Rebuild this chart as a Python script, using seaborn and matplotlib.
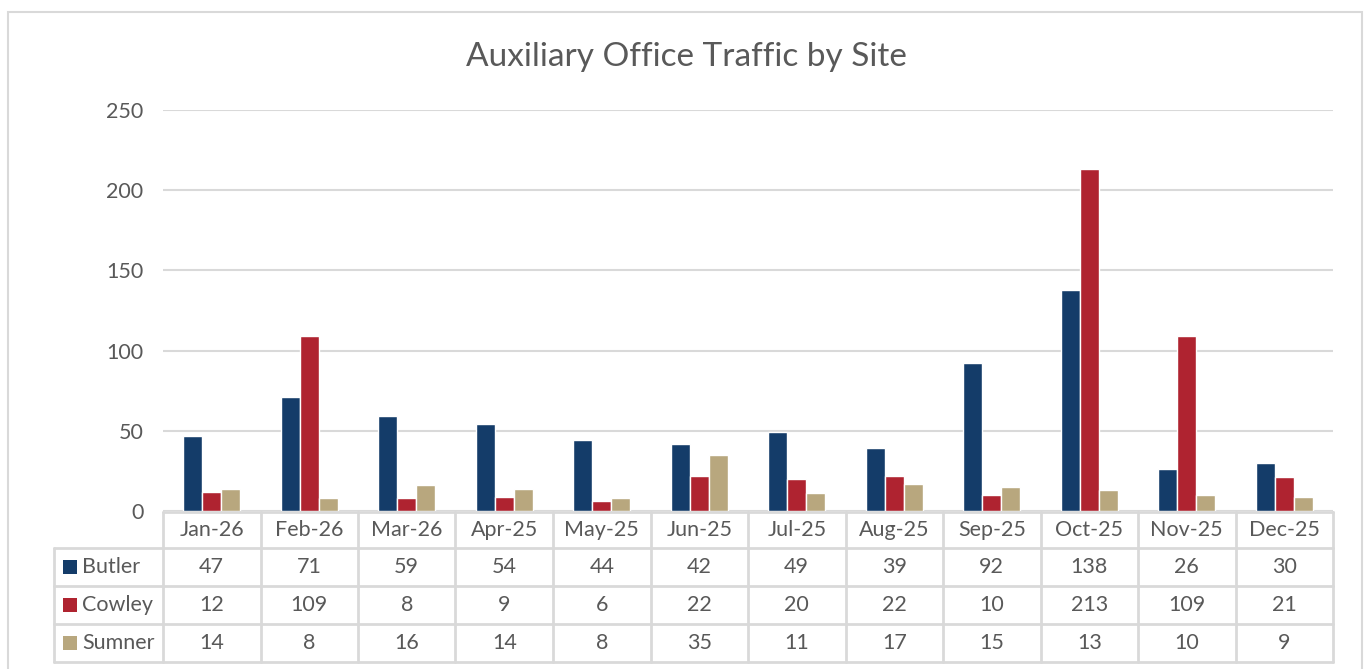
import matplotlib
matplotlib.use("Agg")
import matplotlib.pyplot as plt
import seaborn as sns
import pandas as pd
from matplotlib.patches import Rectangle

# data
months = ["Jan-26", "Feb-26", "Mar-26", "Apr-25", "May-25", "Jun-25",
          "Jul-25", "Aug-25", "Sep-25", "Oct-25", "Nov-25", "Dec-25"]
sites = ["Butler", "Cowley", "Sumner"]
butler = [47, 71, 59, 54, 44, 42, 49, 39, 92, 138, 26, 30]
cowley = [12, 109, 8, 9, 6, 22, 20, 22, 10, 213, 109, 21]
sumner = [14, 8, 16, 14, 8, 35, 11, 17, 15, 13, 10, 9]
colors = ["#143C69", "#AF2330", "#B8A77E"]

values = {"Butler": butler, "Cowley": cowley, "Sumner": sumner}
df = pd.DataFrame([(m, s, values[s][i]) for s in sites for i, m in enumerate(months)],
                  columns=["Month", "Site", "Visits"])

sns.set_style("white")
plt.rcParams['font.family'] = ['Lato', 'DejaVu Sans']
txt = "#595959"
grid = "#D9D9D9"
fs = 15.5

W, H = 1366, 669
fig = plt.figure(figsize=(W / 100, H / 100), dpi=100)

def px(x, y):
    return x / W, 1 - y / H

L, R, T, B = 163, 1333, 110, 511
ax = fig.add_axes([L / W, 1 - B / H, (R - L) / W, (B - T) / H])
sns.barplot(data=df, x="Month", y="Visits", hue="Site", order=months,
            hue_order=sites, palette=colors, width=0.58, saturation=1,
            legend=False, ax=ax)
ax.set_xlim(-0.5, len(months) - 0.5)
ax.set_ylim(0, 250)
ax.set_yticks([0, 50, 100, 150, 200, 250])
ax.yaxis.grid(True, color=grid, lw=1.5)
ax.set_axisbelow(True)
for s in ax.spines.values():
    s.set_visible(False)
ax.set_xticks([])
ax.set_xlabel("")
ax.set_ylabel("")
ax.tick_params(axis="y", length=0, pad=14, labelsize=fs, labelcolor=txt)

# outer chart border
fig.patches.append(Rectangle(px(8, 680), 1354 / W, 668 / H, transform=fig.transFigure,
                             fill=False, edgecolor=grid, lw=1.5))

fig.text(*px(686, 57), "Auxiliary Office Traffic by Site", ha="center", va="center",
         fontsize=24, color=txt)

# data table under the plot
cw = (R - L) / len(months)
rows = [512, 548, 586, 624, 662]
lx = 54

def hline(x0, x1, y):
    fig.add_artist(plt.Line2D([x0 / W, x1 / W], [1 - y / H, 1 - y / H], color=grid, lw=2))

def vline(x, y0, y1):
    fig.add_artist(plt.Line2D([x / W, x / W], [1 - y0 / H, 1 - y1 / H], color=grid, lw=2))

hline(L, R, rows[0])
for y in rows[1:]:
    hline(lx, R, y)
vline(lx, rows[1], rows[-1])
for i in range(len(months) + 1):
    vline(L + i * cw, rows[0], rows[-1])

for i, m in enumerate(months):
    cx = L + (i + 0.5) * cw
    fig.text(*px(cx, (rows[0] + rows[1]) / 2), m, ha="center", va="center",
             fontsize=fs, color=txt)
    for r, s in enumerate(sites):
        cy = (rows[r + 1] + rows[r + 2]) / 2
        fig.text(*px(cx, cy), str(values[s][i]), ha="center", va="center",
                 fontsize=fs, color=txt)

for r, s in enumerate(sites):
    cy = (rows[r + 1] + rows[r + 2]) / 2
    fig.patches.append(Rectangle(px(63, cy + 7), 14 / W, 14 / H, transform=fig.transFigure,
                                 facecolor=colors[r], edgecolor="none"))
    fig.text(*px(82, cy), s, ha="left", va="center", fontsize=fs, color=txt)

fig.savefig("out.png", dpi=100, facecolor="white")
